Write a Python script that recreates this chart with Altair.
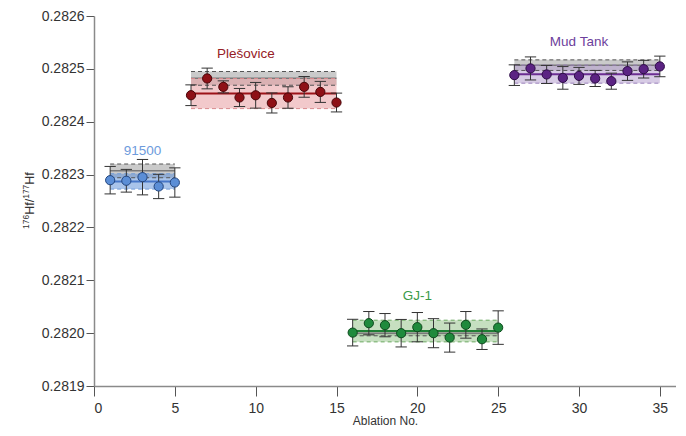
import altair as alt
import pandas as pd

groups = ["91500", "Plešovice", "GJ-1", "Mud Tank"]

# measured ratios and 2SE (per ablation)
x_91500 = [1, 2, 3, 4, 5]
y_91500 = [0.2822894, 0.2822883, 0.2822951, 0.2822775, 0.2822850]
e_91500 = [0.0000260, 0.0000215, 0.0000335, 0.0000230, 0.0000277]

x_ples = [6, 7, 8, 9, 10, 11, 12, 13, 14, 15]
y_ples = [0.2824501, 0.2824818, 0.2824659, 0.2824458, 0.2824500,
          0.2824355, 0.2824458, 0.2824659, 0.2824564, 0.2824363]
e_ples = [0.0000196, 0.0000196, 0.0000114, 0.0000171, 0.0000243,
          0.0000190, 0.0000203, 0.0000196, 0.0000199, 0.0000178]

x_gj = [16, 17, 18, 19, 20, 21, 22, 23, 24, 25]
y_gj = [0.2820010, 0.2820189, 0.2820151, 0.2819999, 0.2820113,
        0.2819999, 0.2819916, 0.2820157, 0.2819885, 0.2820105]
e_gj = [0.0000252, 0.0000220, 0.0000220, 0.0000260, 0.0000277,
        0.0000275, 0.0000275, 0.0000252, 0.0000194, 0.0000317]

x_mud = [26, 27, 28, 29, 30, 31, 32, 33, 34, 35]
y_mud = [0.2824881, 0.2825008, 0.2824894, 0.2824829, 0.2824867,
         0.2824818, 0.2824767, 0.2824957, 0.2824994, 0.2825046]
e_mud = [0.0000195, 0.0000218, 0.0000171, 0.0000214, 0.0000161,
         0.0000152, 0.0000152, 0.0000175, 0.0000167, 0.0000195]

# bands: measured mean +/- 2SD, reference value +/- uncertainty
band_start = [1, 6, 16, 26]
band_end = [5, 15, 25, 35]
band_mean = [0.2822870, 0.2824533, 0.2820040, 0.2824900]
band_half = [0.0000145, 0.0000285, 0.0000205, 0.0000171]
ref_mean = [0.2823070, 0.2824820, 0.2820000, 0.2825070]
ref_half = [0.0000130, 0.0000130, 0.0000050, 0.0000100]

label_x = [3, 9.4, 20, 30]
label_y = [0.2823439, 0.2825279, 0.2820707, 0.2825507]

y_ticks = [0.2819, 0.2820, 0.2821, 0.2822, 0.2823, 0.2824, 0.2825, 0.2826]
x_ticks = [0, 5, 10, 15, 20, 25, 30, 35]

# y-axis title pieces (text, is superscript)
ytitle_parts = ["176", "Hf/", "177", "Hf"]
ytitle_sup = [True, False, True, False]

point_fill = ["#5b8ed6", "#8e1016", "#1f8a3c", "#5b2383"]
point_stroke = ["#22457e", "#4a0609", "#0d4a1d", "#2e0c47"]
band_fill = ["#6294d9", "#e79da0", "#97c58c", "#b6a0d0"]
line_col = ["#4676c8", "#9c1218", "#1e7f34", "#6b2d92"]
dash_col = ["#6f9ad8", "#d88a8e", "#6aa860", "#9a80bb"]
label_col = ["#6d9bdc", "#962026", "#3a9a48", "#6d3f9c"]

FONT = "Liberation Sans"

rows = []
for g, xs_, ys_, es_ in [(groups[0], x_91500, y_91500, e_91500),
                         (groups[1], x_ples, y_ples, e_ples),
                         (groups[2], x_gj, y_gj, e_gj),
                         (groups[3], x_mud, y_mud, e_mud)]:
    for a, b, c in zip(xs_, ys_, es_):
        rows.append({"group": g, "n": a, "r": b, "e": c})
pts = pd.DataFrame(rows)

bands = pd.DataFrame({
    "group": groups, "x0": band_start, "x1": band_end,
    "m": band_mean, "h": band_half, "rm": ref_mean, "rh": ref_half,
    "lx": label_x, "ly": label_y,
})

xs = alt.Scale(domain=[0, 36], nice=False, zero=False)
ys = alt.Scale(domain=[0.2819, 0.2826], nice=False, zero=False)

def sc(rng):
    return alt.Scale(domain=groups, range=rng)

xax = alt.Axis(values=x_ticks, title="Ablation No.", grid=False, format="d")
yax = alt.Axis(values=y_ticks, title=None, grid=False, format=".4f")

bbase = alt.Chart(bands).transform_calculate(
    lo="datum.m - datum.h", hi="datum.m + datum.h",
    rlo="datum.rm - datum.rh", rhi="datum.rm + datum.rh",
)

gray_rect = bbase.mark_rect(color="#a9a9a9", opacity=0.62).encode(
    x=alt.X("x0:Q", scale=xs, axis=xax), x2="x1:Q",
    y=alt.Y("rlo:Q", scale=ys, axis=yax), y2="rhi:Q",
)
col_rect = bbase.mark_rect(opacity=0.55).encode(
    x=alt.X("x0:Q", scale=xs), x2="x1:Q",
    y=alt.Y("lo:Q", scale=ys), y2="hi:Q",
    color=alt.Color("group:N", scale=sc(band_fill), legend=None),
)

def rule(field, color_enc=None, **kw):
    enc = dict(x=alt.X("x0:Q", scale=xs), x2="x1:Q", y=alt.Y(f"{field}:Q", scale=ys))
    if color_enc is not None:
        enc["color"] = color_enc
    return bbase.mark_rule(**kw).encode(**enc)

gray_lo = rule("rlo", color="#555555", strokeWidth=1, strokeDash=[4, 3])
gray_hi = rule("rhi", color="#555555", strokeWidth=1, strokeDash=[4, 3])
gray_mid = rule("rm", color="#7a7a7a", strokeWidth=1.5)

ccol = alt.Color("group:N", scale=sc(dash_col), legend=None)
col_lo = rule("lo", ccol, strokeWidth=1, strokeDash=[4, 3])
col_hi = rule("hi", ccol, strokeWidth=1, strokeDash=[4, 3])
col_mid = rule("m", alt.Color("group:N", scale=sc(line_col), legend=None), strokeWidth=2)

pbase = alt.Chart(pts).transform_calculate(
    lo="datum.r - datum.e", hi="datum.r + datum.e",
    cl="datum.n - 0.35", cr="datum.n + 0.35",
)
err = pbase.mark_rule(color="#333333", strokeWidth=1).encode(
    x=alt.X("n:Q", scale=xs), y=alt.Y("lo:Q", scale=ys), y2="hi:Q",
)
cap_lo = pbase.mark_rule(color="#333333", strokeWidth=1).encode(
    x=alt.X("cl:Q", scale=xs), x2="cr:Q", y=alt.Y("lo:Q", scale=ys),
)
cap_hi = pbase.mark_rule(color="#333333", strokeWidth=1).encode(
    x=alt.X("cl:Q", scale=xs), x2="cr:Q", y=alt.Y("hi:Q", scale=ys),
)
dots = pbase.mark_circle(size=85, opacity=1, strokeWidth=1).encode(
    x=alt.X("n:Q", scale=xs), y=alt.Y("r:Q", scale=ys),
    fill=alt.Fill("group:N", scale=sc(point_fill), legend=None),
    stroke=alt.Stroke("group:N", scale=sc(point_stroke), legend=None),
)

labels = alt.Chart(bands).mark_text(font=FONT, fontSize=13.5, align="center", baseline="middle").encode(
    x=alt.X("lx:Q", scale=xs), y=alt.Y("ly:Q", scale=ys),
    text="group:N",
    color=alt.Color("group:N", scale=sc(label_col), legend=None),
)

# rotated y-axis title built from pieces (superscript mass numbers)
title_layers = []
ypos = 213.0
for part, sup in zip(ytitle_parts, ytitle_sup):
    fs = 8.5 if sup else 12.5
    w = len(part) * 0.556 * fs if sup else (1.278 * fs if part == "Hf/" else 1.0 * fs)
    title_layers.append(
        alt.Chart(pd.DataFrame({"t": [part]})).mark_text(
            font=FONT, fontSize=fs, angle=270, align="left", baseline="alphabetic",
            color="#333333",
        ).encode(
            text="t:N",
            x=alt.value(-60 if not sup else -65),
            y=alt.value(ypos),
        )
    )
    ypos -= w

chart = alt.layer(
    gray_rect, col_rect, gray_lo, gray_hi, gray_mid, col_lo, col_hi, col_mid,
    err, cap_lo, cap_hi, dots, labels, *title_layers,
).resolve_scale(color="independent").properties(
    width=582, height=370,
    autosize=alt.AutoSizeParams(type="none"),
    padding={"left": 86, "top": 8, "right": 0, "bottom": 43},
).configure_view(stroke=None).configure_axis(
    labelFont=FONT, titleFont=FONT, labelFontSize=14, titleFontSize=12,
    labelColor="#333333", titleColor="#333333", titleFontWeight="normal",
    domainColor="#8a8a8a", domainWidth=1.5, tickColor="#555555", tickWidth=1,
).configure_axisY(
    tickSize=8, labelPadding=2,
).configure_axisX(
    tickSize=10, labelPadding=5, titlePadding=0,
)

chart.save("out.html", embed_options={"renderer": "svg", "actions": False})
